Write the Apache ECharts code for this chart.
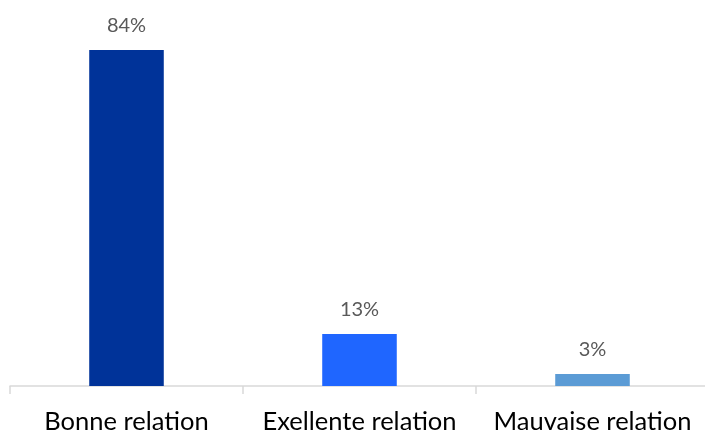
<!DOCTYPE html>
<html><head><meta charset="utf-8">
<script src="https://cdn.jsdelivr.net/npm/echarts@6/dist/echarts.min.js"></script>
<style>html,body{margin:0;padding:0;background:#fff}#c{width:705px;height:432px}</style>
</head><body><div id="c"></div>
<script>
const categories = ["Bonne relation", "Exellente relation", "Mauvaise relation"];
const values = [84, 13, 3];
const colors = ["#003399", "#1F66FF", "#5B9BD5"];
const chart = echarts.init(document.getElementById('c'));
chart.setOption({
  animation: false,
  grid: {left: 10, right: -4, top: 26, bottom: 46, containLabel: false, outerBoundsMode: 'none'},
  xAxis: {
    type: 'category', data: categories,
    axisLine: {lineStyle: {color: '#D9D9D9', width: 1.5}},
    axisTick: {show: true, length: 8, lineStyle: {color: '#D9D9D9', width: 1.5}},
    axisLabel: {color: '#000', fontSize: 25.5, fontFamily: 'Lato', margin: 23, interval: 0, hideOverlap: false}
  },
  yAxis: {type: 'value', min: 0, max: 90, show: false, splitLine: {show: false}},
  series: [{
    type: 'bar', barWidth: '32%',
    data: values.map((v, i) => ({value: v, itemStyle: {color: colors[i]}})),
    label: {show: true, position: 'top', distance: 14, formatter: '{c}%', color: '#595959', fontSize: 20, fontFamily: 'Lato'}
  }]
});
</script></body></html>
